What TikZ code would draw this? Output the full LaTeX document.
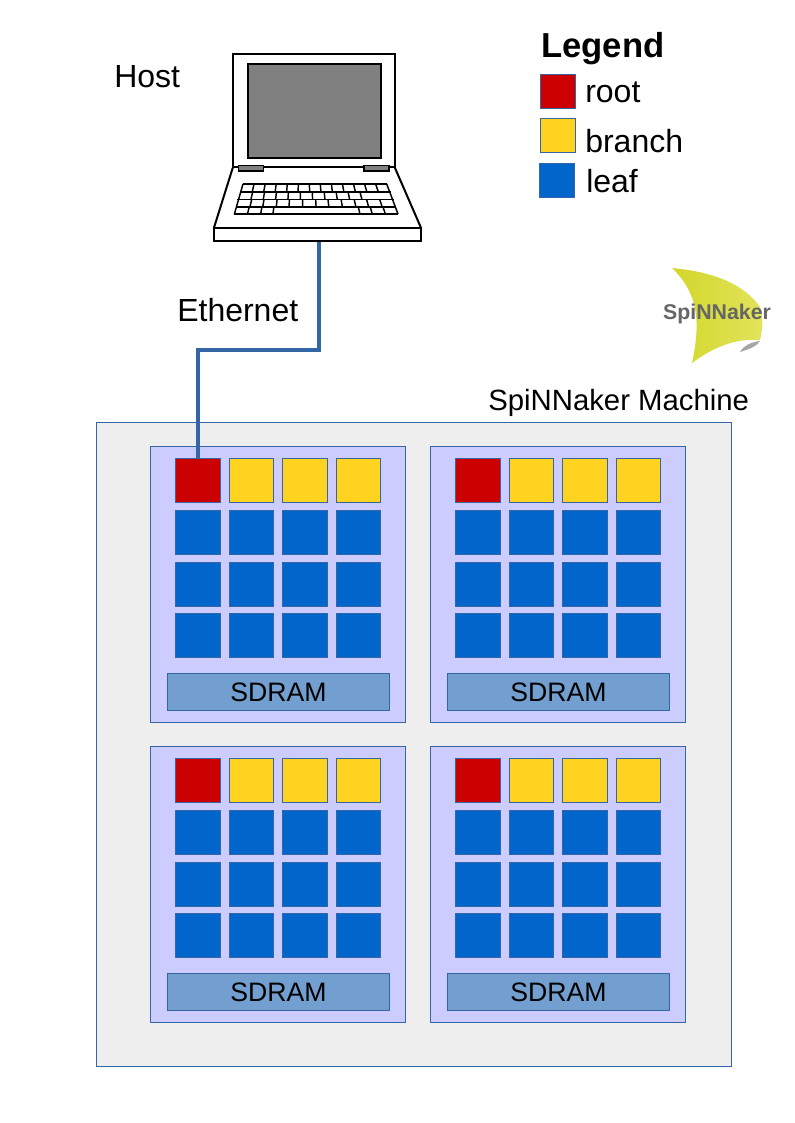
\documentclass[tikz,border=0pt]{standalone}
\usepackage{fontspec}
\setmainfont{Liberation Sans}
\definecolor{edgeblue}{HTML}{3465A4}
\definecolor{machinegrey}{HTML}{EEEEEE}
\definecolor{chipfill}{HTML}{CCCCFF}
\definecolor{rootred}{HTML}{CC0000}
\definecolor{branchyellow}{HTML}{FFD320}
\definecolor{leafblue}{HTML}{0066CC}
\definecolor{sdramblue}{HTML}{729FCF}
\definecolor{sailleft}{HTML}{D2D62A}
\definecolor{sailright}{HTML}{E2E45C}
\tikzset{
    panel/.style={draw=edgeblue, line width=0.75pt, inner sep=0pt},
    cell/.style={panel, minimum width=#1*0.75pt, minimum height=44*0.75pt},
    rootcell/.style={cell=#1, fill=rootred},
    branchcell/.style={cell=#1, fill=branchyellow},
    leafcell/.style={cell=#1, fill=leafblue},
    swatch/.style={panel, minimum width=26.3pt, minimum height=25.5pt},
    bigtext/.style={inner sep=0pt, anchor=base west, font=\fontsize{24}{28}\selectfont},
    laptopline/.style={line width=1.5pt, line join=miter},
    keyline/.style={line width=1.1pt}
}
\newcommand{\keyrow}[3]{%
    \foreach \t in {#3}{
        \pgfmathsetmacro{\xtop}{243-8.6*(#1-184)/30+\t*(143.7+20.4*(#1-184)/30)}
        \pgfmathsetmacro{\xbot}{243-8.6*(#2-184)/30+\t*(143.7+20.4*(#2-184)/30)}
        \draw[keyline] (\xtop, #1) to (\xbot, #2);
    }
}
\begin{document}
\begin{tikzpicture}[x=0.75pt, y=-0.75pt]%% px coordinates, y downwards
    \useasboundingbox (0, 0) rectangle (794, 1123);

        %% laptop
        \draw[laptopline] (232.7, 168) to (213.8, 228.3);
        \draw[laptopline] (395, 168) to (421.2, 228.3);
        \draw[laptopline, fill=white] (233.2, 53.8) rectangle (394.6, 166.7);
        \draw[laptopline, fill=black!50] (247.5, 64.2) rectangle (380.5, 158);
        \draw[line width=1pt, fill=black!50!white] (238.3, 165.7) rectangle (263.3, 171);
        \draw[line width=1pt, fill=black!50!white] (364, 165.7) rectangle (389, 171);
        \draw[laptopline] (213.8, 228.3) rectangle (421.2, 241.2);
        \coordinate (hostport) at (319, 242);

            %% keyboard
            \draw[keyline] (243, 184) to (386.7, 184);
            \draw[keyline] (240.1, 192) to (391, 192);
            \draw[keyline] (237.3, 199.5) to (393.5, 199.5);
            \draw[keyline] (234.4, 214) to (398, 214);
            \draw[keyline] (236, 207) to (396, 207);
            \draw[keyline] (243, 184) to (234.4, 214);
            \draw[keyline] (386.7, 184) to (398, 214);
            \keyrow{184}{192}{0.077,0.154,0.231,0.308,0.385,0.462,0.538,0.615,0.692,0.769,0.846,0.923}
            \keyrow{192}{199.5}{0.08,0.16,0.24,0.32,0.40,0.48,0.56,0.64,0.72,0.80}
            \keyrow{199.5}{207}{0.085,0.165,0.25,0.33,0.415,0.5,0.58,0.665,0.75,0.83,0.915}
            \keyrow{207}{214}{0.08,0.16,0.235,0.765,0.84,0.92}

        %% labels at the top
        \node[bigtext] (hostlabel) at (114, 88) {Host};
        \node[bigtext] (ethernetlabel) at (177, 321) {Ethernet};
        \node[inner sep=0pt, anchor=base west, font=\fontsize{22}{26}\selectfont] (machinelabel) at (488, 410.5) {SpiNNaker Machine};

        %% legend
        \node[inner sep=0pt, anchor=base west, font=\fontsize{26}{30}\selectfont\bfseries] (legendlabel) at (541, 58) {Legend};
        \node[swatch, fill=rootred] (rootswatch) at (558, 92) {};
        \node[swatch, fill=branchyellow] (branchswatch) at (558, 135.5) {};
        \node[swatch, fill=leafblue] (leafswatch) at (557, 180.5) {};
        \node[bigtext] (rootlabel) at (585, 103) {root};
        \node[bigtext] (branchlabel) at (585, 153) {branch};
        \node[bigtext] (leaflabel) at (586, 193) {leaf};

        %% logo
        \shade[left color=sailleft, right color=sailright]
            (672, 268) .. controls (715, 272) and (745, 285) .. (760, 307)
            .. controls (764, 320) and (762, 332) .. (760, 340)
            .. controls (735, 338) and (712, 348) .. (692, 363)
            .. controls (700, 325) and (700, 295) .. (672, 268) -- cycle;
        \fill[black!35] (740, 352) .. controls (744, 345) and (752, 342) .. (760, 341)
            .. controls (757, 346) and (750, 349) .. (740, 352) -- cycle;
        \node[inner sep=0pt, text=black!60, font=\fontsize{16}{20}\selectfont\bfseries] (logotext) at (717, 314) {SpiNNaker};

        %% machine
        \node[panel, fill=machinegrey, minimum width=635*0.75pt, minimum height=644*0.75pt] (machine) at (413.5, 744.5) {};

        \foreach \ox/\oy/\chipname in {0/0/a, 280/0/b, 0/300/c, 280/300/d}{
            \begin{scope}[shift={(\ox, \oy)}]
                \node[panel, fill=chipfill, minimum width=255*0.75pt, minimum height=276*0.75pt] (chip\chipname) at (278, 584.5) {};
                    \node[rootcell=45] (\chipname-1-1) at (198, 480) {};
                    \foreach \cx/\cw/\col in {251.5/44.5/2, 305/45.5/3, 358.5/44.5/4}{
                        \node[branchcell=\cw] (\chipname-1-\col) at (\cx, 480) {};
                    }
                    \foreach \cy/\row in {532/2, 584/3, 635.5/4}{
                        \foreach \cx/\cw/\col in {198/45/1, 251.5/44.5/2, 305/45.5/3, 358.5/44.5/4}{
                            \node[leafcell=\cw] (\chipname-\row-\col) at (\cx, \cy) {};
                        }
                    }
                \node[panel, fill=sdramblue, minimum width=222*0.75pt, minimum height=37*0.75pt, font=\fontsize{20}{24}\selectfont] (sdram\chipname) at (278.5, 692) {SDRAM};
            \end{scope}
        }

        %% ethernet cable
        \coordinate (cablebend) at (198, 350);
        \draw[edgeblue, line width=3pt] (hostport) to (hostport |- cablebend) to (cablebend) to (a-1-1.north);

\end{tikzpicture}
\end{document}
